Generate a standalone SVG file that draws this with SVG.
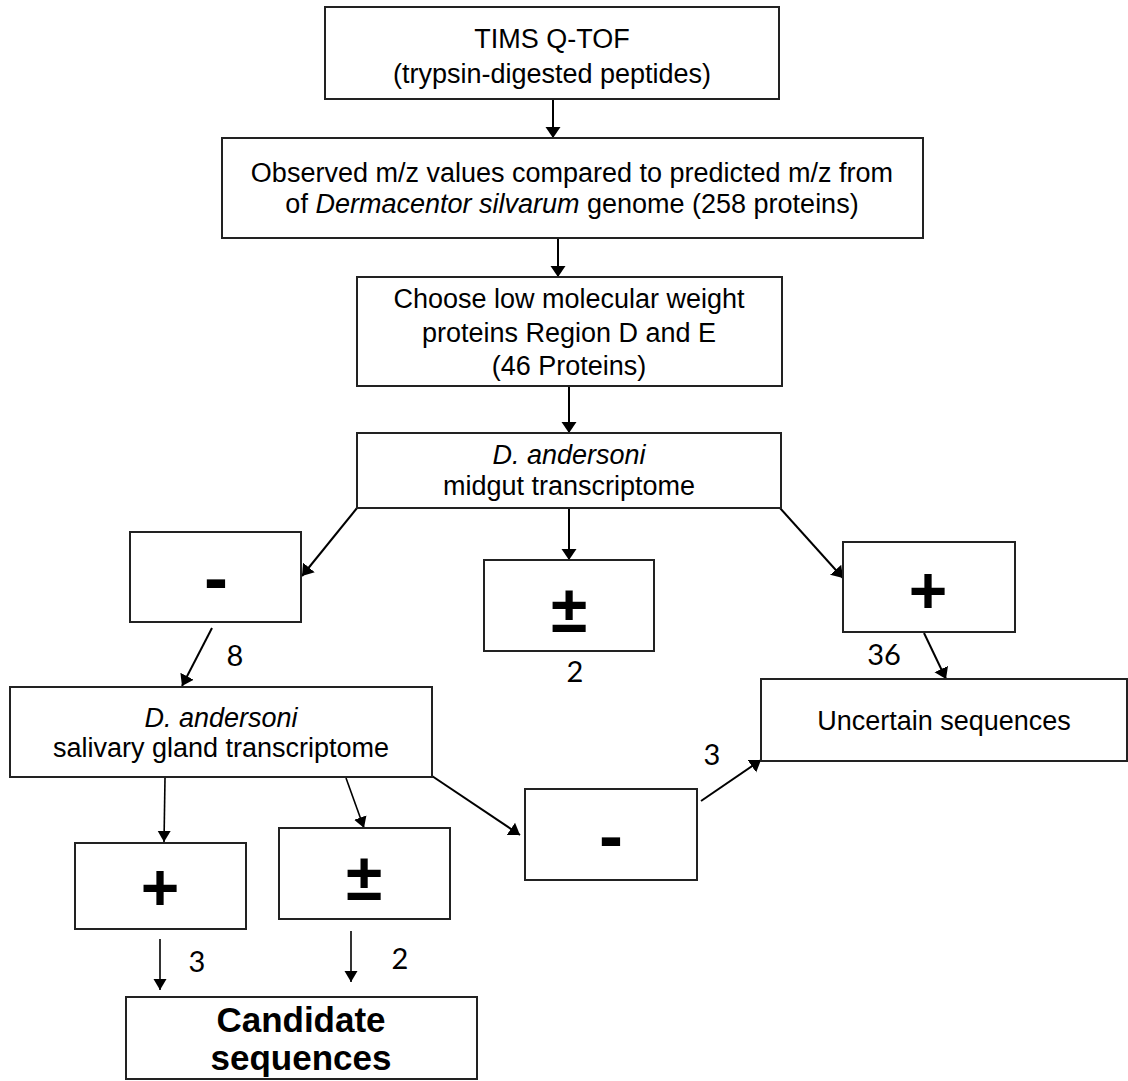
<svg xmlns="http://www.w3.org/2000/svg" width="1128" height="1081" viewBox="0 0 1128 1081">
<defs>
<marker id="ah" markerUnits="userSpaceOnUse" markerWidth="12" markerHeight="16" refX="11" refY="8" orient="auto">
<path d="M0,0.5 L11,8 L0,15.5 z" fill="#000"/>
</marker>
<marker id="ah2" markerUnits="userSpaceOnUse" markerWidth="12" markerHeight="14" refX="11" refY="7" orient="auto">
<path d="M0,0.5 L11,7 L0,13.5 z" fill="#000"/>
</marker>
<style>
.box{fill:#fff;stroke:#222;stroke-width:2}
.t{font-family:"Liberation Sans",Arial,sans-serif;font-size:27px;fill:#000;text-anchor:middle}
.it{font-style:italic}
.sym{font-family:"Liberation Sans",Arial,sans-serif;font-weight:bold;fill:#000;text-anchor:middle}
.b{font-family:"Liberation Sans",Arial,sans-serif;font-weight:bold;font-size:35px;fill:#000;text-anchor:middle}
.n{font-family:Lato,"Open Sans",sans-serif;font-size:29px;fill:#000;text-anchor:middle}
.c{stroke:#000;stroke-width:2;fill:none;marker-end:url(#ah)}
.c2{stroke:#000;stroke-width:1.6;fill:none;marker-end:url(#ah2)}
</style>
</defs>
<rect width="1128" height="1081" fill="#fff"/>
<g id="connectors">
<line class="c" x1="553" y1="99" x2="553" y2="138"/>
<line class="c" x1="558" y1="238" x2="558" y2="277"/>
<line class="c" x1="569" y1="386" x2="569" y2="433"/>
<line class="c" x1="357" y1="508" x2="302" y2="576"/>
<line class="c" x1="569" y1="508" x2="569" y2="560"/>
<line class="c" x1="780" y1="508" x2="843" y2="578"/>
<line class="c" x1="212" y1="628" x2="182" y2="686"/>
<line class="c" x1="924" y1="633" x2="946" y2="679"/>
<line class="c2" x1="165" y1="778" x2="164" y2="842"/>
<line class="c2" x1="346" y1="778" x2="364" y2="828"/>
<line class="c" x1="432" y1="776" x2="520" y2="835"/>
<line class="c" x1="701" y1="801" x2="761" y2="760"/>
<line class="c2" x1="160" y1="939" x2="160" y2="990"/>
<line class="c2" x1="351" y1="931" x2="351" y2="982"/>
</g>
<g id="tims">
<rect class="box" x="325" y="7" width="454" height="92"/>
<text class="t" x="552" y="48">TIMS Q-TOF</text>
<text class="t" x="552" y="83">(trypsin-digested peptides)</text>
</g>
<g id="observed">
<rect class="box" x="222" y="138" width="701" height="100"/>
<text class="t" x="572" y="182">Observed m/z values compared to predicted m/z from</text>
<text class="t" x="572" y="213">of <tspan class="it">Dermacentor silvarum</tspan> genome (258 proteins)</text>
</g>
<g id="choose">
<rect class="box" x="357" y="277" width="425" height="109"/>
<text class="t" x="569" y="308">Choose low molecular weight</text>
<text class="t" x="569" y="342">proteins Region D and E</text>
<text class="t" x="569" y="375">(46 Proteins)</text>
</g>
<g id="midgut">
<rect class="box" x="357" y="433" width="424" height="75"/>
<text class="t it" x="569" y="464">D. andersoni</text>
<text class="t" x="569" y="495">midgut transcriptome</text>
</g>
<g id="minus1">
<rect class="box" x="130" y="532" width="171" height="90"/>
<text class="sym" x="216" y="602" font-size="72">-</text>
</g>
<g id="pm1">
<rect class="box" x="484" y="560" width="170" height="91"/>
<text class="sym" x="569" y="632" font-size="66">±</text>
</g>
<text class="n" x="575" y="682">2</text>
<g id="plus1">
<rect class="box" x="843" y="542" width="172" height="90"/>
<text class="sym" x="928" y="613" font-size="66">+</text>
</g>
<text class="n" x="884" y="665">36</text>
<text class="n" x="235" y="666">8</text>
<g id="uncertain">
<rect class="box" x="761" y="679" width="366" height="82"/>
<text class="t" x="944" y="730">Uncertain sequences</text>
</g>
<g id="salivary">
<rect class="box" x="10" y="687" width="422" height="90"/>
<text class="t it" x="221" y="727">D. andersoni</text>
<text class="t" x="221" y="757">salivary gland transcriptome</text>
</g>
<g id="plus2">
<rect class="box" x="75" y="843" width="171" height="86"/>
<text class="sym" x="160" y="910" font-size="66">+</text>
</g>
<g id="pm2">
<rect class="box" x="279" y="828" width="171" height="91"/>
<text class="sym" x="364" y="900" font-size="66">±</text>
</g>
<g id="minus2">
<rect class="box" x="525" y="789" width="172" height="91"/>
<text class="sym" x="611" y="860" font-size="72">-</text>
</g>
<text class="n" x="712" y="765">3</text>
<text class="n" x="197" y="972">3</text>
<text class="n" x="400" y="969">2</text>
<g id="candidate">
<rect class="box" x="126" y="997" width="351" height="82"/>
<text class="b" x="301" y="1032">Candidate</text>
<text class="b" x="301" y="1070">sequences</text>
</g>
</svg>
